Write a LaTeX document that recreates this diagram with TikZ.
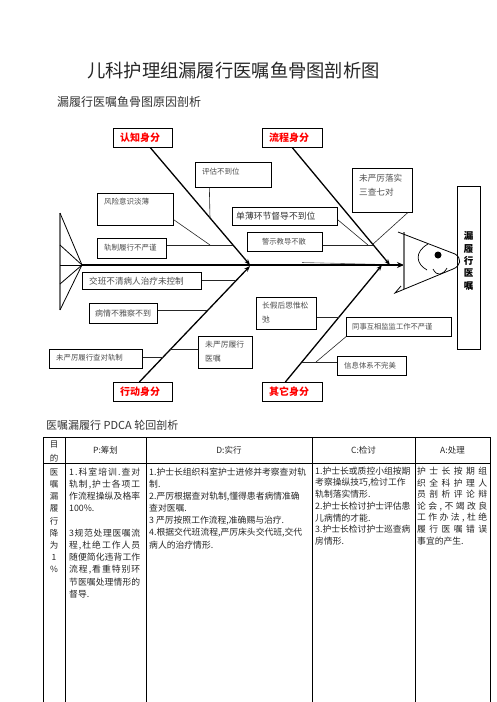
\documentclass[tikz,border=0pt]{standalone}
\usepackage{fontspec}
\setmainfont{Noto Sans CJK SC}
\usetikzlibrary{arrows.meta}
\definecolor{catred}{RGB}{255,0,0}
\newcommand\jl[2]{\makebox[#1][s]{\jlx#2\relax}}
\def\jlx#1#2\relax{#1\ifx\relax#2\relax\else\hfill\jlx#2\relax\fi}
\newcommand\bx[5]{\node[boxst,minimum width=#4pt-#2pt,minimum height=#5pt-#3pt] (#1) at (#2,#3) {};}
\begin{document}
\begin{tikzpicture}[x=1pt,y=-1pt,
  boxst/.style={draw,line width=0.7pt,inner sep=0pt,anchor=north west},
  cattxt/.style={inner sep=0pt,text=catred,font=\fontsize{10}{12}\selectfont\bfseries},
  small/.style={inner sep=0pt,anchor=west,text=black!70,font=\fontsize{7.5}{9}\selectfont},
  thinl/.style={line width=0.6pt,draw=black!85},
  bone/.style={line width=1.3pt,-{Stealth[length=6pt,width=4.5pt]}},
  spine/.style={line width=2.2pt,-{Stealth[length=7pt,width=6pt]}},
  grayl/.style={line width=1.4pt,draw=black!55},
  tab/.style={line width=0.8pt},
  tb/.style={inner sep=0pt,anchor=west,text=black!85,font=\fontsize{8.8}{10}\selectfont},
]
\useasboundingbox (0,0) rectangle (496,702);
% titles
\node[inner sep=0pt,text=black!85,font=\fontsize{18.3}{20}\selectfont] (title) at (233.5,71) {儿科护理组漏履行医嘱鱼骨图剖析图};
\node[inner sep=0pt,anchor=west,text=black!80,font=\fontsize{12}{14}\selectfont] (sub1) at (57,102) {漏履行医嘱鱼骨图原因剖析};

% fish tail
\coordinate (tail) at (82,265);
\coordinate (t1) at (60,213);
\coordinate (t2) at (60,245);
\coordinate (t3) at (60,265);
\coordinate (t4) at (60,284);
\coordinate (t5) at (60,310);
\draw[grayl] (t1) -- (t5);
\foreach \k in {1,...,5} \draw[line width=0.8pt] (t\k) -- (tail);

% spine and head
\coordinate (head) at (404,265);
\draw[line width=0.6pt,draw=black!60] (302,262.5) -- (head);
\draw[spine] (tail) -- (head);
\coordinate (hv1) at (404,232);
\coordinate (hv2) at (404,289);
\draw[grayl] (hv1) -- (hv2);
\draw[line width=0.8pt] (398,232) -- (455,254) .. controls (462,258) and (461,266) .. (453,269) -- (395,293) -- (401,286);
\fill (438,255) circle (3.5);
\draw[line width=0.7pt] (428,244) .. controls (414,252) and (416,264) .. (427,270);
\draw[line width=0.7pt] (433,269) .. controls (437,277) and (443,275) .. (447,268);

% result box
\bx{res}{457}{186}{480}{349}
\node[inner sep=0pt,align=center,font=\fontsize{9.5}{12.4}\selectfont\bfseries] (res-t) at (468.5,261) {漏\\履\\行\\医\\嘱};

% category boxes
\bx{rz}{113}{128}{172}{147}
\node[cattxt] (rz-t) at (140,138) {认知身分};
\bx{lc}{262}{128}{322}{147}
\node[cattxt] (lc-t) at (289,138) {流程身分};
\bx{xd}{113}{382}{172}{401}
\node[cattxt] (xd-t) at (140,392) {行动身分};
\bx{qt}{262}{382}{322}{401}
\node[cattxt] (qt-t) at (289,392) {其它身分};

% bone tips
\coordinate (b1) at (250,265);
\coordinate (b2) at (390,265);
\coordinate (b3) at (250,266);
\coordinate (b4) at (382,265);
\draw[bone] ([xshift=7.5pt]rz.south) -- (b1);
\draw[bone] ([xshift=0pt]lc.south) -- (b2);
\draw[bone] ([xshift=-3.5pt]xd.north) -- (b3);
\draw[bone] ([xshift=-7pt]qt.north) -- (b4);

% minor boxes
\bx{pg}{195}{162}{271}{187}
\node[small] (pg-t) at (202,172) {评估不到位};
\bx{fx}{97}{193}{173}{225}
\node[small] (fx-t) at (104,202) {风险意识淡薄};
\bx{gz}{97}{238}{166}{258}
\node[small] (gz-t) at (104,248) {轨制履行不严谨};
\bx{db}{232}{207}{337}{225}
\node[small,text=black!80,font=\fontsize{8.8}{10}\selectfont] (db-t) at (236,216) {单薄环节督导不到位};
\bx{js}{247}{232}{322}{251}
\node[small,anchor=center,font=\fontsize{7.3}{9}\selectfont] (js-t) at (284,242) {警示教导不散};
\bx{wy}{352}{168}{412}{212}
\node[small,font=\fontsize{8.6}{10}\selectfont] (wy-t1) at (359,178) {未严厉落实};
\node[small,font=\fontsize{8.6}{10}\selectfont] (wy-t2) at (359,192) {三查七对};
\bx{jb}{82}{272}{201}{289}
\node[small,font=\fontsize{8.6}{10}\selectfont] (jb-t) at (89,281) {交班不清病人治疗未控制};
\bx{bq}{89}{303}{157}{323}
\node[small,font=\fontsize{8}{10}\selectfont] (bq-t) at (95,313) {病情不雅察不到};
\bx{wc}{49}{349}{142}{368}
\node[small,font=\fontsize{7.4}{9}\selectfont] (wc-t) at (56,358) {未严厉履行查对轨制};
\bx{wl}{198}{336}{252}{368}
\node[small,font=\fontsize{7.8}{9}\selectfont] (wl-t1) at (205,345) {未严厉履行};
\node[small,font=\fontsize{7.8}{9}\selectfont] (wl-t2) at (205,359) {医嘱};
\bx{cj}{256}{297}{316}{329}
\node[small,font=\fontsize{7.7}{9}\selectfont] (cj-t1) at (262,306) {长假后思惟松};
\node[small,font=\fontsize{7.7}{9}\selectfont] (cj-t2) at (262,320) {弛};
\bx{ts}{346}{317}{451}{336}
\node[small,font=\fontsize{7.3}{9}\selectfont] (ts-t) at (352,327) {同事互相监监工作不严谨};
\bx{xx}{337}{356}{406}{375}
\node[small,font=\fontsize{7.4}{9}\selectfont] (xx-t) at (344,366) {信息体系不完美};

% minor connectors
\coordinate (m1) at (210,218);
\draw[thinl] ([xshift=-24pt]pg.south) -- (m1);
\coordinate (m2) at (233,245);
\coordinate (m3) at (210,245);
\draw[thinl] (gz.east |- m2) -- (m2);
\draw[thinl] ([yshift=6pt]fx.south east) -- (m3);
\coordinate (m4) at (373,245);
\draw[thinl] (js.east |- m4) -- (m4);
\draw[thinl] ([yshift=6pt]db.south east) -- (368,245);
\draw[thinl] ([xshift=-5pt]wy.south east) -- (372,245);
\coordinate (m5) at (236,280);
\draw[thinl] (jb.east |- m5) -- (m5);
\coordinate (m6) at (207,310);
\draw[thinl] (bq.east |- m6) -- (m6);
\coordinate (m7) at (163,357);
\draw[thinl] (wc.east |- m7) -- (m7);
\coordinate (m8) at (170,349);
\draw[thinl] (m8) -- (wl.west |- m8);
\coordinate (m9) at (339,317);
\draw[thinl] (cj.east |- m9) -- (m9);
\coordinate (m10) at (302,362);
\coordinate (m11) at (316,362);
\draw[thinl] (m10) -- (xx.west |- m10);
\draw[thinl] (ts.south west) -- (m11);

% PDCA section
\node[inner sep=0pt,anchor=west,text=black!80,font=\fontsize{11}{13}\selectfont] (sub2) at (46,425) {医嘱漏履行 PDCA 轮回剖析};
\draw[tab] (43,702) -- (43,437) -- (490,437) -- (490,702);
\draw[tab] (43,463) -- (490,463);
\foreach \cx in {65,146,312,415} \draw[tab] (\cx,437) -- (\cx,702);
\node[tb,anchor=center,font=\fontsize{8.5}{10}\selectfont] (h0a) at (54,445) {目};
\node[tb,anchor=center,font=\fontsize{8.5}{10}\selectfont] (h0b) at (54,458) {的};
\node[tb,anchor=center,font=\fontsize{8.5}{10}\selectfont] (h1) at (105.5,450) {P:筹划};
\node[tb,anchor=center,font=\fontsize{8.5}{10}\selectfont] (h2) at (229,450) {D:实行};
\node[tb,anchor=center,font=\fontsize{8.5}{10}\selectfont] (h3) at (363.5,450) {C:检讨};
\node[tb,anchor=center,font=\fontsize{8.5}{10}\selectfont] (h4) at (452.5,450) {A:处理};

\foreach \t [count=\i from 0] in {医,嘱,漏,履,行,降,为,1,\%}
  \node[tb,anchor=center,font=\fontsize{8.5}{10}\selectfont] (c1-\i) at (54,472+12.2*\i) {\t};

\foreach \t [count=\i from 0] in {{\jl{71pt}{1.科室培训.查对}},{\jl{71pt}{轨制,护士各项工}},{\jl{71pt}{作流程操纵及格率}},{100\%.},{},{\jl{71pt}{3规范处理医嘱流}},{\jl{71pt}{程,杜绝工作人员}},{\jl{71pt}{随便简化违背工作}},{\jl{71pt}{流程,看重特别环}},{\jl{71pt}{节医嘱处理情形的}},{督导.}}
  \node[tb] (c2-\i) at (69,472+12.2*\i) {\t};

\foreach \t [count=\i from 0] in {{1.护士长组织科室护士进修并考察查对轨},{制.},{2.严厉根据查对轨制,懂得患者病情准确},{查对医嘱.},{3 严厉按照工作流程,准确赐与治疗.},{4.根据交代班流程,严厉床头交代班,交代},{病人的治疗情形.}}
  \node[tb] (c3-\i) at (149,472+12.2*\i) {\t};

\foreach \t [count=\i from 0] in {{1.护士长或质控小组按期},{考察操纵技巧,检讨工作},{轨制落实情形.},{2.护士长检讨护士评估患},{儿病情的才能.},{3.护士长检讨护士巡查病},{房情形.}}
  \node[tb] (c4-\i) at (315,471+11.7*\i) {\t};

\foreach \t [count=\i from 0] in {{\jl{70pt}{护士长按期组}},{\jl{70pt}{织全科护理人}},{\jl{70pt}{员剖析评论辩}},{\jl{70pt}{论会,不竭改良}},{\jl{70pt}{工作办法,杜绝}},{\jl{70pt}{履行医嘱错误}},{事宜的产生.}}
  \node[tb] (c5-\i) at (417,471+11.7*\i) {\t};
\end{tikzpicture}
\end{document}
